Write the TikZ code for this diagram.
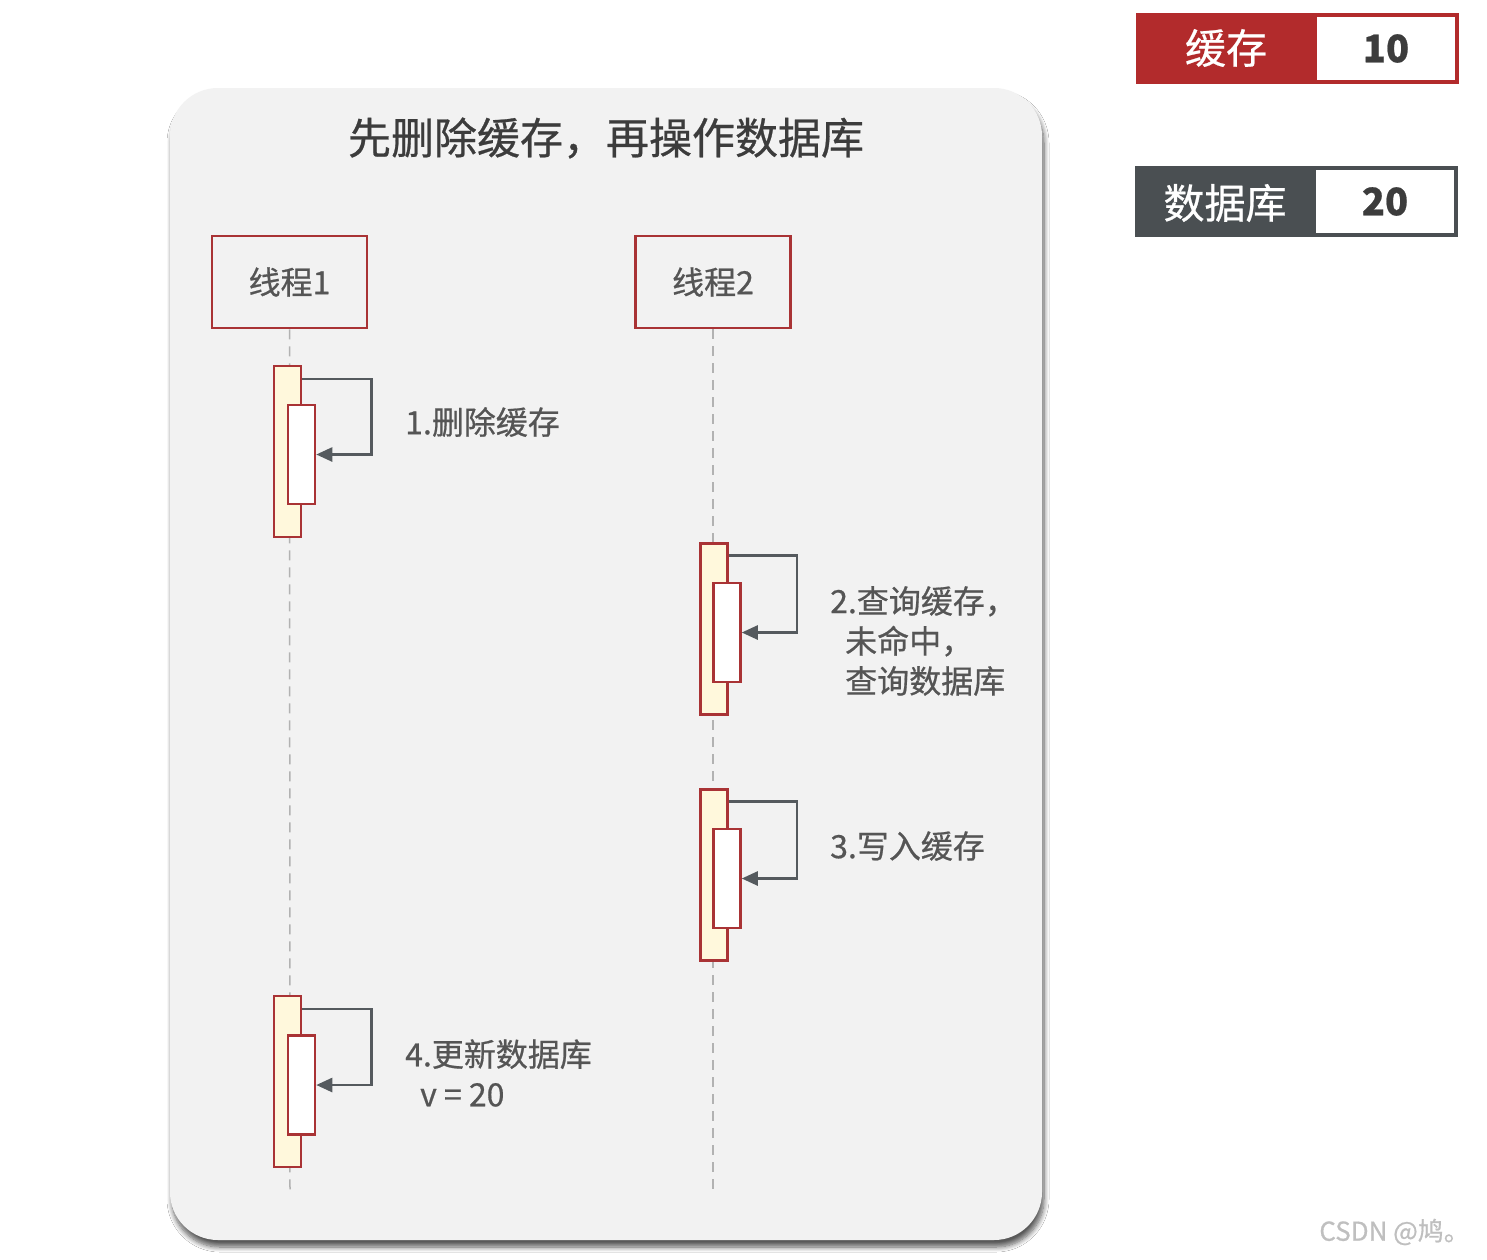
\documentclass[tikz,border=0pt]{standalone}
\usepackage{fontspec}
\setmainfont{Noto Sans CJK SC}[FakeBold=0.6]
\usetikzlibrary{shadows.blur,arrows.meta}
\definecolor{redb}{HTML}{A93335}
\definecolor{cachered}{HTML}{B22B2C}
\definecolor{dbgray}{HTML}{4A4F52}
\definecolor{panel}{HTML}{F2F2F2}
\definecolor{cream}{HTML}{FFF8DC}
\definecolor{txt}{HTML}{555555}
\definecolor{ttl}{HTML}{3C3C3C}
\definecolor{arr}{HTML}{555A5E}
\tikzset{
  threadbox/.style={draw=redb, line width=2.5pt, fill=panel, minimum width=155pt, minimum height=92pt, inner sep=0pt, text=txt, font=\fontsize{32}{36}\selectfont},
  outerbar/.style={draw=redb, line width=2.5pt, fill=cream, minimum width=27pt, minimum height=171pt, inner sep=0pt},
  innerbar/.style={draw=redb, line width=2.5pt, fill=white, minimum width=27pt, minimum height=99pt, inner sep=0pt},
  life/.style={draw=black!30, line width=1.5pt, dash pattern=on 10pt off 7pt},
  msg/.style={draw=arr, line width=2.5pt, -{Triangle[length=16pt,width=14pt]}},
  steplabel/.style={anchor=west, text=txt, font=\fontsize{32}{40}\selectfont, align=left, inner sep=0pt},
  legkey/.style={text=white, font=\fontsize{41}{45}\selectfont, inner sep=0pt},
  legval/.style={fill=white, minimum width=138pt, minimum height=63pt, inner sep=0pt, anchor=east, text=ttl, font=\fontsize{38}{42}\selectfont\bfseries}
}
\begin{document}
\begin{tikzpicture}[x=1pt,y=-1pt]
\useasboundingbox (0,0) rectangle (1487,1259);
\fill[white] (0,0) rectangle (1487,1259);
% panel
\node[fill=panel, rounded corners=48pt, minimum width=872pt, minimum height=1152pt, inner sep=0pt,
  blur shadow={shadow xshift=2pt, shadow yshift=-7pt, shadow blur steps=8, shadow blur radius=5pt, shadow opacity=65}] (panel) at (606,664) {};
\node[text=ttl, font=\fontsize{43}{46}\selectfont, inner sep=0pt] (title) at (606,138) {先删除缓存，再操作数据库};
% threads
\node[threadbox] (t1) at (289.5,282) {线程1};
\node[threadbox] (t2) at (713,282) {线程2};
\coordinate (e1) at (290,1195);
\coordinate (e2) at (713,1195);
\draw[life] (t1.south) -- (e1);
\draw[life] (t2.south) -- (e2);
% step 1
\node[outerbar] (o1) at (287.5,451.5) {};
\node[innerbar] (i1) at (301.5,454.5) {};
\draw[msg] ([yshift=-14pt]o1.north east) -- ++(69,0) |- (i1.east);
\node[steplabel] (l1) at (405,422) {1.删除缓存};
% step 2
\node[outerbar] (o2) at (714,629) {};
\node[innerbar] (i2) at (727,632.5) {};
\draw[msg] ([yshift=-13pt]o2.north east) -- ++(68,0) |- (i2.east);
\node[steplabel] (l2) at (830,641) {2.查询缓存，\\\hspace{15pt}未命中，\\\hspace{15pt}查询数据库};
% step 3
\node[outerbar] (o3) at (714,875) {};
\node[innerbar] (i3) at (727,878.5) {};
\draw[msg] ([yshift=-13pt]o3.north east) -- ++(68,0) |- (i3.east);
\node[steplabel] (l3) at (830,846) {3.写入缓存};
% step 4
\node[outerbar] (o4) at (287.5,1081.5) {};
\node[innerbar] (i4) at (301.5,1085) {};
\draw[msg] ([yshift=-14pt]o4.north east) -- ++(69,0) |- (i4.east);
\node[steplabel] (l4) at (405,1073) {4.更新数据库\\\hspace{15pt}v = 20};
% legend
\node[fill=cachered, minimum width=323pt, minimum height=71pt, inner sep=0pt] (cache) at (1297.5,48.5) {};
\node[legval] (cacheval) at ([xshift=-4pt]cache.east) {10};
\node[legkey] (cachekey) at (1226,48) {缓存};
\node[fill=dbgray, minimum width=323pt, minimum height=71pt, inner sep=0pt] (db) at (1296.5,201.5) {};
\node[legval] (dbval) at ([xshift=-4pt]db.east) {20};
\node[legkey] (dbkey) at (1225,203) {数据库};
% watermark
\node[text=black!25, font=\fontsize{26}{30}\selectfont, anchor=east, inner sep=0pt] (wm) at (1470,1232) {CSDN @鸠。};
\end{tikzpicture}
\end{document}
